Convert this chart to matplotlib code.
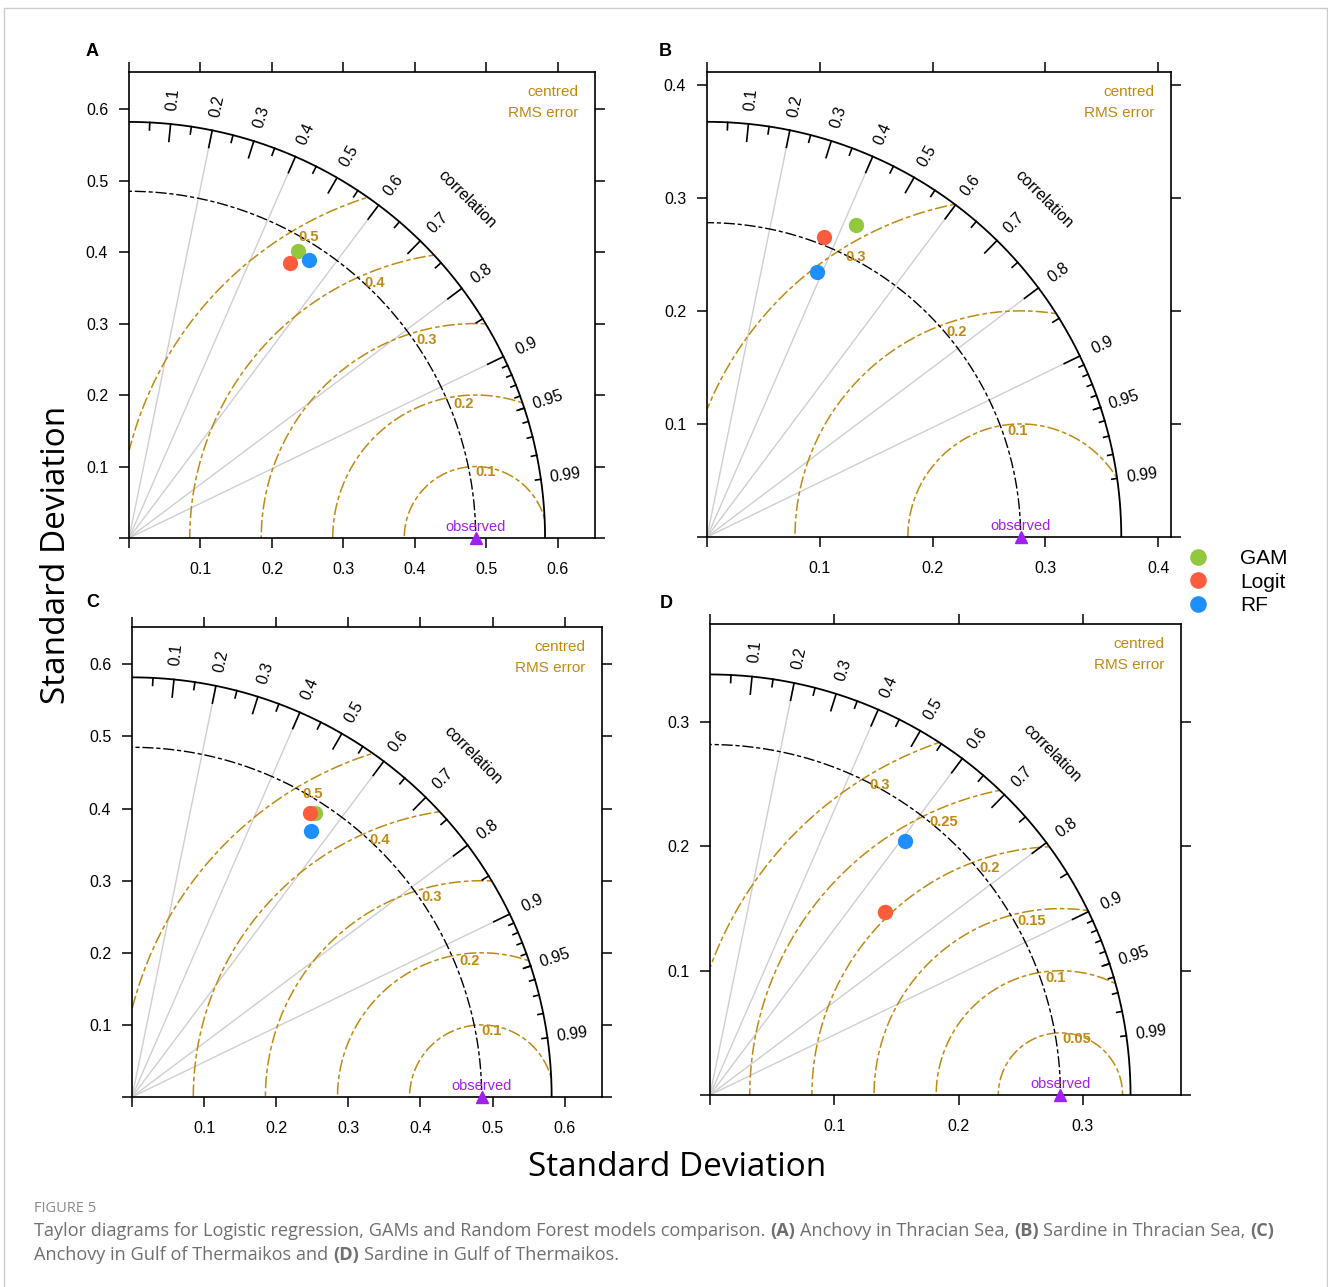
import numpy as np
import matplotlib
matplotlib.use("Agg")
import matplotlib.pyplot as plt
from matplotlib.lines import Line2D
from matplotlib.patches import Rectangle

# ---- data ----
panel_ids = ["A", "B", "C", "D"]
obs_sd = [0.485, 0.278, 0.485, 0.282]

models = ["GAM", "Logit", "RF"]
gam_sd = [0.465, 0.306, 0.468, 0.204]
gam_cor = [0.507, 0.433, 0.542, 0.690]
logit_sd = [0.446, 0.285, 0.465, 0.204]
logit_cor = [0.505, 0.363, 0.530, 0.690]
rf_sd = [0.464, 0.254, 0.445, 0.258]
rf_cor = [0.544, 0.383, 0.557, 0.609]

rms_levels = [
    [0.1, 0.2, 0.3, 0.4, 0.5],
    [0.1, 0.2, 0.3],
    [0.1, 0.2, 0.3, 0.4, 0.5],
    [0.05, 0.1, 0.15, 0.2, 0.25, 0.3],
]
axis_ticks = [
    [0.1, 0.2, 0.3, 0.4, 0.5, 0.6],
    [0.1, 0.2, 0.3, 0.4],
    [0.1, 0.2, 0.3, 0.4, 0.5, 0.6],
    [0.1, 0.2, 0.3],
]
cor_labels = [0.1, 0.2, 0.3, 0.4, 0.5, 0.6, 0.7, 0.8, 0.9, 0.95, 0.99]
grid_cors = [0.2, 0.4, 0.6, 0.8, 0.9]

# ---- styling ----
W, H = 1328, 1287
model_colors = ["#92c83e", "#ff5b3f", "#1e8fff"]
gold = "#c08a12"
purple = "#a020f0"
font = "Liberation Sans"
dash = (3, 2, 8, 2)
# axes boxes in pixels: left, top, right, bottom
boxes = [(129, 72, 595, 538), (707, 72, 1171, 537),
         (132, 627, 602, 1097), (710, 624, 1181, 1095)]
letter_pos = [(92, 52), (665, 52), (93, 602), (666, 603)]

plt.rcParams["font.family"] = [font, "DejaVu Sans"]
fig = plt.figure(figsize=(W / 100, H / 100), dpi=100)

model_sd = [gam_sd, logit_sd, rf_sd]
model_cor = [gam_cor, logit_cor, rf_cor]

for i, pid in enumerate(panel_ids):
    l, t, r, b = boxes[i]
    ax = fig.add_axes([l / W, 1 - b / H, (r - l) / W, (b - t) / H])
    sd0 = obs_sd[i]
    allsd = [sd0] + [m[i] for m in model_sd]
    maxsd = 1.2 * max(allsd)
    lim = 1.12 * maxsd
    ax.set_xlim(0, lim)
    ax.set_ylim(0, lim)

    # grey correlation lines
    for c in grid_cors:
        ax.plot([0, maxsd * c], [0, maxsd * np.sqrt(1 - c ** 2)],
                color="#cfcfcf", lw=1.0, zorder=1)

    th = np.linspace(0, np.pi / 2, 300)
    ax.plot(maxsd * np.cos(th), maxsd * np.sin(th), color="black", lw=1.3, zorder=3)
    ax.plot(sd0 * np.cos(th), sd0 * np.sin(th), color="black", lw=1.0,
            dashes=dash, zorder=3)

    # centred RMS contours
    phi = np.linspace(0, np.pi, 600)
    for lev in rms_levels[i]:
        x = sd0 + lev * np.cos(phi)
        y = lev * np.sin(phi)
        bad = (np.hypot(x, y) > maxsd) | (x < 0)
        x = np.where(bad, np.nan, x)
        y = np.where(bad, np.nan, y)
        ax.plot(x, y, color=gold, lw=1.1, dashes=dash, zorder=2)
        xi = sd0 - lev ** 2 / (2 * sd0)
        yi = np.sqrt(max(sd0 ** 2 - xi ** 2, 0))
        ax.annotate("%g" % lev, (xi, yi), xytext=(5, -4), textcoords="offset points",
                    ha="left", va="center", color=gold, fontsize=10.5,
                    fontweight="bold", zorder=4)

    # ticks on outer arc
    big = np.arange(0.1, 0.95, 0.1)
    med = np.arange(0.05, 1.0, 0.1)
    sml = np.arange(0.91, 0.995, 0.01)
    for cs, ln in [(big, 0.042), (med, 0.018), (sml, 0.013)]:
        for c in cs:
            a = np.arccos(c)
            ax.plot([maxsd * np.cos(a), (1 - ln) * maxsd * np.cos(a)],
                    [maxsd * np.sin(a), (1 - ln) * maxsd * np.sin(a)],
                    color="black", lw=1.2, zorder=3)
    for c in cor_labels:
        a = np.arccos(c)
        ax.text(1.06 * maxsd * np.cos(a), 1.06 * maxsd * np.sin(a), "%g" % c,
                rotation=np.degrees(a), ha="center", va="center", fontsize=11.5,
                clip_on=False)
    ax.text(1.15 * maxsd * np.cos(np.pi / 4), 1.15 * maxsd * np.sin(np.pi / 4),
            "correlation", rotation=-45, ha="center", va="center", fontsize=11.5)

    ax.text(0.965, 0.957, "centred", transform=ax.transAxes, ha="right",
            va="center", color=gold, fontsize=11)
    ax.text(0.965, 0.912, "RMS error", transform=ax.transAxes, ha="right",
            va="center", color=gold, fontsize=11)

    # observed point
    ax.plot([sd0], [0], marker="^", color=purple, ms=8, clip_on=False, zorder=5)
    ax.annotate("observed", (sd0, 0), xytext=(0, 8), textcoords="offset points",
                ha="center", va="center", color=purple, fontsize=10.5)

    # models
    for m in range(len(models)):
        s = model_sd[m][i]
        c = model_cor[m][i]
        ax.plot([s * c], [s * np.sqrt(1 - c ** 2)], "o", color=model_colors[m],
                ms=11, mec="none", zorder=6)

    ticks = [0] + axis_ticks[i]
    labels = [""] + ["%g" % v for v in axis_ticks[i]]
    ax.set_xticks(ticks)
    ax.set_xticklabels(labels)
    ax.set_yticks(ticks)
    ax.set_yticklabels(labels)
    ax.tick_params(direction="out", length=7, width=1.1, labelsize=11.5,
                   top=True, right=True, pad=8)
    ax.tick_params(axis="x", pad=10)
    for sp in ax.spines.values():
        sp.set_linewidth(1.2)

    lx, ly = letter_pos[i]
    fig.text(lx / W, 1 - ly / H, pid, fontsize=13, fontweight="bold",
             ha="center", va="center")

fig.text(57 / W, 1 - 555 / H, "Standard Deviation", rotation=90, ha="center",
         va="center", fontsize=24, family="Open Sans")
fig.text(677 / W, 1 - 1167 / H, "Standard Deviation", ha="center", va="center",
         fontsize=24, family="Open Sans")

handles = [Line2D([], [], marker="o", ls="none", color=col, ms=12, mec="none")
           for col in model_colors]
fig.legend(handles, models, loc="upper left", bbox_to_anchor=(1188 / W, 1 - 549 / H),
           frameon=False, fontsize=15, handlelength=1, handletextpad=1.5,
           labelspacing=0.22, borderpad=0, borderaxespad=0)

# caption
cap_col = "#6f6f6f"
fig.text(34 / W, 1 - 1208 / H, "FIGURE 5", fontsize=10.5, color="#8a8a8a",
         family="Open Sans", ha="left", va="center")
renderer = fig.canvas.get_renderer()


def rich_line(y_px, parts, size=13.1):
    probe = fig.text(0, 0, "a a", fontsize=size, family="Open Sans")
    probe2 = fig.text(0, 0, "aa", fontsize=size, family="Open Sans")
    sp = probe.get_window_extent(renderer).width - probe2.get_window_extent(renderer).width
    probe.remove()
    probe2.remove()
    x = 34
    for k, (s, bold) in enumerate(parts):
        if k > 0:
            x += sp
        tx = fig.text(x / W, 1 - y_px / H, s, fontsize=size, family="Open Sans",
                      fontweight="bold" if bold else "normal", color=cap_col,
                      ha="left", va="center")
        x = tx.get_window_extent(renderer).x1


rich_line(1231, [("Taylor diagrams for Logistic regression, GAMs and Random Forest models comparison.", False),
                 ("(A)", True), ("Anchovy in Thracian Sea,", False), ("(B)", True),
                 ("Sardine in Thracian Sea,", False), ("(C)", True)])
rich_line(1255, [("Anchovy in Gulf of Thermaikos and", False), ("(D)", True),
                 ("Sardine in Gulf of Thermaikos.", False)])

fig.patches.append(Rectangle((4 / W, -0.01), 1323 / W, 1 - 8 / H + 0.01,
                             transform=fig.transFigure, fill=False,
                             edgecolor="#cccccc", lw=1))

fig.savefig("out.png", dpi=100)
